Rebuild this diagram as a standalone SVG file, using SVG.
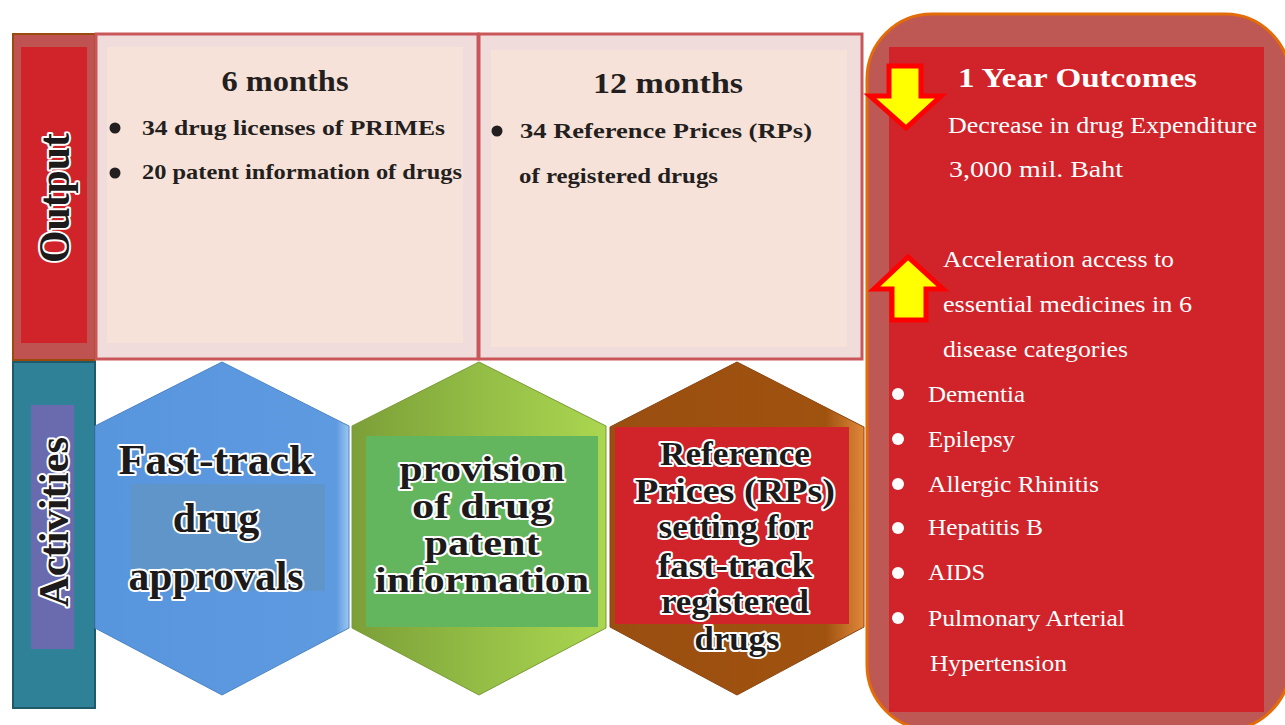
<svg xmlns="http://www.w3.org/2000/svg" width="1285" height="725" viewBox="0 0 1285 725">
<defs>
<style>
.lbl{font-family:"Liberation Serif","Times New Roman",serif;font-weight:bold;fill:#1c1a1a;stroke:#ffffff;stroke-width:4;paint-order:stroke;stroke-linejoin:round;text-anchor:middle}
.bt{font-family:"Liberation Serif","Times New Roman",serif;font-weight:bold;fill:#231f20}
.wt{font-family:"Liberation Serif","Times New Roman",serif;fill:#ffffff}
.boxo{fill:#f1dcdc;stroke:#c9575a;stroke-width:3}
.boxi{fill:#f7e2d9}
.arrow{fill:#ffff00;stroke:#ff0000;stroke-width:5;stroke-linejoin:miter}
</style>
<linearGradient id="gBlue" x1="0" y1="0" x2="1" y2="0">
<stop offset="0" stop-color="#5795dd"/><stop offset="0.95" stop-color="#5e9ae0"/><stop offset="1" stop-color="#9cc8f0"/>
</linearGradient>
<linearGradient id="gGreen" x1="0" y1="0" x2="1" y2="0">
<stop offset="0" stop-color="#7c9f38"/><stop offset="0.5" stop-color="#93bd45"/><stop offset="1" stop-color="#aad650"/>
</linearGradient>
<linearGradient id="gBrown" x1="0" y1="0" x2="1" y2="0">
<stop offset="0" stop-color="#9a4e10"/><stop offset="0.85" stop-color="#a0530f"/><stop offset="1" stop-color="#e0873a"/>
</linearGradient>
</defs>
<rect width="1285" height="725" fill="#ffffff"/>

<g id="output-label">
<rect x="13" y="34" width="82" height="326" fill="#bf5351" stroke="#9a4a0c" stroke-width="2"/>
<rect x="21" y="47" width="66" height="296" fill="#d0232a"/>
<text class="lbl" transform="translate(69,198) rotate(-90)" font-size="44" textLength="130" lengthAdjust="spacingAndGlyphs">Output</text>
</g>

<g id="activities-label">
<rect x="13" y="362" width="82" height="346" fill="#2e8196" stroke="#1f5a68" stroke-width="2"/>
<rect x="31" y="405" width="43" height="244" fill="#6a6bae"/>
<text class="lbl" transform="translate(68,522) rotate(-90)" font-size="42" textLength="170" lengthAdjust="spacingAndGlyphs">Activities</text>
</g>

<g id="box-6months">
<rect class="boxo" x="96" y="34" width="382" height="325"/>
<rect class="boxi" x="107" y="47" width="356" height="296"/>
<text class="bt" x="285" y="91" font-size="29" text-anchor="middle" textLength="127" lengthAdjust="spacingAndGlyphs">6 months</text>
<circle cx="115" cy="128" r="5.5" fill="#231f20"/>
<text class="bt" x="142" y="135" font-size="22" textLength="303" lengthAdjust="spacingAndGlyphs">34 drug licenses of PRIMEs</text>
<circle cx="115" cy="173" r="5.5" fill="#231f20"/>
<text class="bt" x="142" y="179" font-size="22" textLength="320" lengthAdjust="spacingAndGlyphs">20 patent information of drugs</text>
</g>

<g id="box-12months">
<rect class="boxo" x="479" y="34" width="383" height="325"/>
<rect class="boxi" x="491" y="50" width="356" height="297"/>
<text class="bt" x="668" y="93" font-size="29" text-anchor="middle" textLength="150" lengthAdjust="spacingAndGlyphs">12 months</text>
<circle cx="497" cy="131" r="5.5" fill="#231f20"/>
<text class="bt" x="520" y="138" font-size="22" textLength="292" lengthAdjust="spacingAndGlyphs">34 Reference Prices (RPs)</text>
<text class="bt" x="519" y="183" font-size="22" textLength="199" lengthAdjust="spacingAndGlyphs">of registered drugs</text>
</g>

<g id="outcomes">
<rect x="867" y="14" width="423" height="716" rx="65" ry="65" fill="#bd5855" stroke="#e36c09" stroke-width="3"/>
<rect x="889" y="47" width="375" height="665" fill="#d0232a"/>
<polygon class="arrow" points="889,66 921,66 921,96 941,96 906,128 870,96 889,96"/>
<polygon class="arrow" points="892,320 926,320 926,289 943,289 908,257 874,289 892,289"/>
<text class="wt" x="958" y="87" font-size="27" font-weight="bold" textLength="239" lengthAdjust="spacingAndGlyphs">1 Year Outcomes</text>
<text class="wt" x="948" y="133" font-size="24" textLength="309" lengthAdjust="spacingAndGlyphs">Decrease in drug Expenditure</text>
<text class="wt" x="949" y="177" font-size="24" textLength="174" lengthAdjust="spacingAndGlyphs">3,000 mil. Baht</text>
<text class="wt" x="943" y="267" font-size="24" textLength="231" lengthAdjust="spacingAndGlyphs">Acceleration access to</text>
<text class="wt" x="943" y="312" font-size="24" textLength="249" lengthAdjust="spacingAndGlyphs">essential medicines in 6</text>
<text class="wt" x="943" y="357" font-size="24" textLength="185" lengthAdjust="spacingAndGlyphs">disease categories</text>
<circle cx="898" cy="394" r="6" fill="#ffffff"/>
<text class="wt" x="928" y="402" font-size="24" textLength="97" lengthAdjust="spacingAndGlyphs">Dementia</text>
<circle cx="898" cy="439" r="6" fill="#ffffff"/>
<text class="wt" x="928" y="447" font-size="24" textLength="87" lengthAdjust="spacingAndGlyphs">Epilepsy</text>
<circle cx="898" cy="484" r="6" fill="#ffffff"/>
<text class="wt" x="928" y="492" font-size="24" textLength="171" lengthAdjust="spacingAndGlyphs">Allergic Rhinitis</text>
<circle cx="898" cy="528" r="6" fill="#ffffff"/>
<text class="wt" x="928" y="535" font-size="24" textLength="115" lengthAdjust="spacingAndGlyphs">Hepatitis B</text>
<circle cx="898" cy="573" r="6" fill="#ffffff"/>
<text class="wt" x="928" y="580" font-size="24" textLength="57" lengthAdjust="spacingAndGlyphs">AIDS</text>
<circle cx="898" cy="618" r="6" fill="#ffffff"/>
<text class="wt" x="928" y="626" font-size="24" textLength="197" lengthAdjust="spacingAndGlyphs">Pulmonary Arterial</text>
<text class="wt" x="930" y="671" font-size="24" textLength="137" lengthAdjust="spacingAndGlyphs">Hypertension</text>
</g>

<g id="hex-fasttrack">
<polygon points="95,426 222,362 349,426 349,628 222,695 95,628" fill="url(#gBlue)" stroke="#4a84c4" stroke-width="1"/>
<rect x="131" y="484" width="194" height="107" fill="#5f95c8"/>
<text class="lbl" x="216" y="474" font-size="42" textLength="195" lengthAdjust="spacingAndGlyphs">Fast-track</text>
<text class="lbl" x="216" y="532" font-size="42">drug</text>
<text class="lbl" x="216" y="590" font-size="42" textLength="175" lengthAdjust="spacingAndGlyphs">approvals</text>
</g>

<g id="hex-patent">
<polygon points="352,426 479,362 606,426 606,628 479,695 352,628" fill="url(#gGreen)" stroke="#7a9b36" stroke-width="1"/>
<rect x="366" y="436" width="232" height="191" fill="#63b65d"/>
<text class="lbl" x="482" y="481" font-size="36" textLength="165" lengthAdjust="spacingAndGlyphs">provision</text>
<text class="lbl" x="482" y="518" font-size="36" textLength="140" lengthAdjust="spacingAndGlyphs">of drug</text>
<text class="lbl" x="482" y="555" font-size="36" textLength="115" lengthAdjust="spacingAndGlyphs">patent</text>
<text class="lbl" x="482" y="592" font-size="36" textLength="214" lengthAdjust="spacingAndGlyphs">information</text>
</g>

<g id="hex-rp">
<polygon points="610,427 737,362 864,427 864,627 737,695 610,627" fill="url(#gBrown)" stroke="#8a4510" stroke-width="1"/>
<rect x="615" y="427" width="234" height="197" fill="#d0232a"/>
<text class="lbl" x="735" y="465" font-size="34" textLength="150" lengthAdjust="spacingAndGlyphs">Reference</text>
<text class="lbl" x="735" y="502" font-size="34" textLength="200" lengthAdjust="spacingAndGlyphs">Prices (RPs)</text>
<text class="lbl" x="735" y="538" font-size="34" textLength="153" lengthAdjust="spacingAndGlyphs">setting for</text>
<text class="lbl" x="735" y="577" font-size="34" textLength="154" lengthAdjust="spacingAndGlyphs">fast-track</text>
<text class="lbl" x="735" y="613" font-size="34" textLength="148" lengthAdjust="spacingAndGlyphs">registered</text>
<text class="lbl" x="737" y="650" font-size="34" textLength="85" lengthAdjust="spacingAndGlyphs">drugs</text>
</g>

<g id="connectors"/>
</svg>
